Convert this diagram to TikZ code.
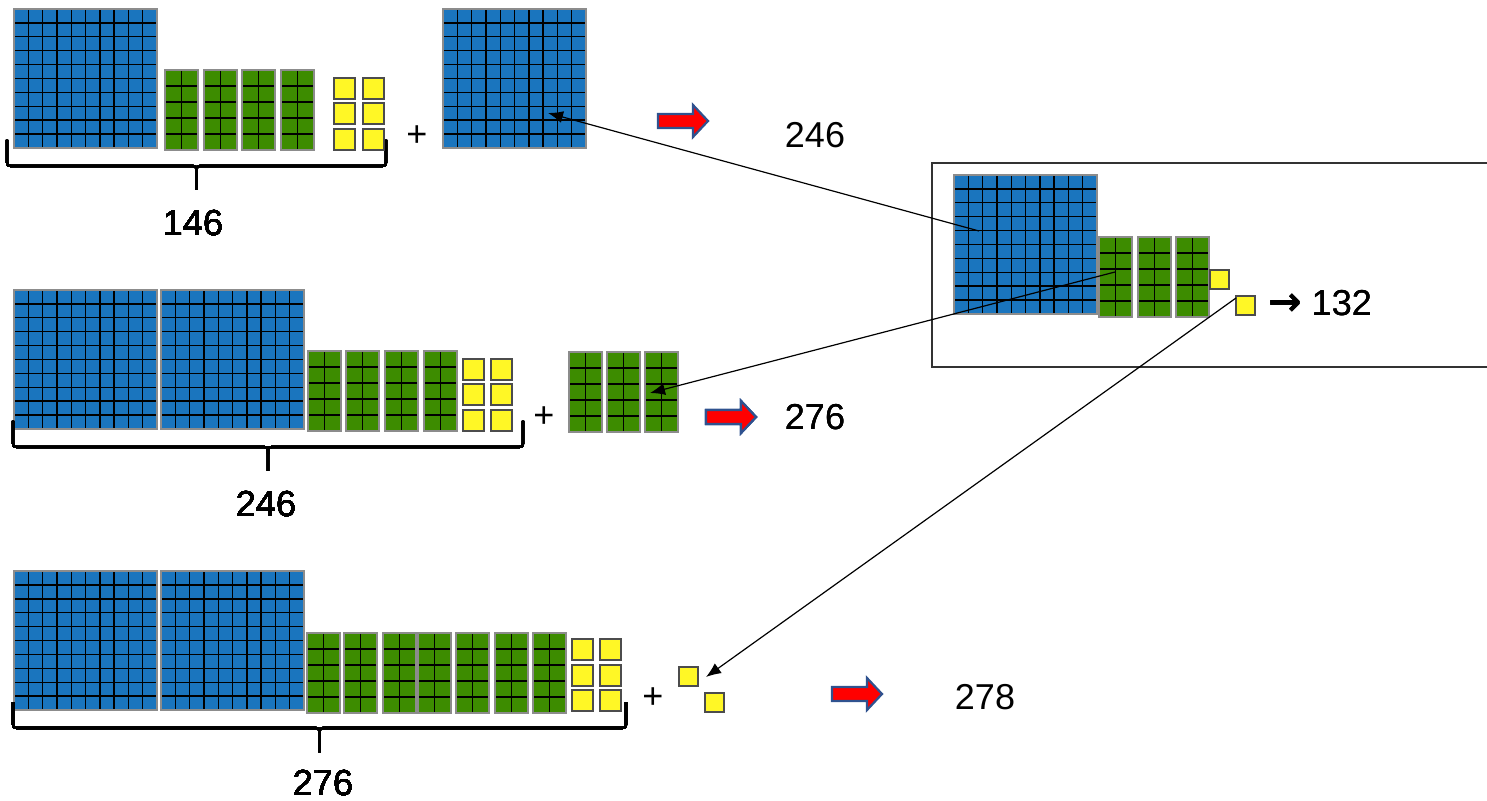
\documentclass[tikz,border=0pt]{standalone}
\usepackage{fontspec}
\setmainfont{Liberation Sans}
\newfontfamily\arrowfont{DejaVu Sans}
\usepackage{tikz}
\usetikzlibrary{arrows.meta}
\definecolor{hblue}{RGB}{26,117,190}
\definecolor{tgreen}{RGB}{61,140,0}
\definecolor{uyellow}{RGB}{255,247,38}
\definecolor{ared}{RGB}{255,0,0}
\definecolor{aedge}{RGB}{47,82,143}

\newcommand{\hundredflat}[2]{%
  \fill[hblue] (#1,#2) rectangle +(143,139);
  \foreach \k in {1,...,9} {
    \draw[gridline] ({#1+\k*14.3},#2) -- +(0,139);
    \draw[gridline] (#1,{#2+\k*13.9}) -- +(143,0);
  }
  \draw[edgeline] (#1,#2) rectangle +(143,139);
}
\newcommand{\tenrod}[2]{%
  \fill[tgreen] (#1,#2) rectangle +(33,80);
  \draw[gridline] ({#1+16.5},#2) -- +(0,80);
  \foreach \k in {1,...,4} \draw[gridline] (#1,{#2+\k*16}) -- +(33,0);
  \draw[edgeline] (#1,#2) rectangle +(33,80);
}
\newcommand{\onecube}[3]{%
  \draw[cubeline] (#1,#2) rectangle +(#3,#3);
}
\newcommand{\fatarrow}[2]{%
  \draw[fatarrowline] (#1,{#2-7}) -- ++(35,0) -- ++(0,-9) -- ++(15,16)
    -- ++(-15,16) -- ++(0,-9) -- ++(-35,0) -- cycle;
}
\newcommand{\sumbrace}[3]{%
  \draw[braceline] (#1,#3) -- (#1,{#3+19}) .. controls (#1,{#3+26}) .. ({#1+7},{#3+26})
    -- ({(#1+#2)/2-7},{#3+26}) .. controls ({(#1+#2)/2},{#3+26}) .. ({(#1+#2)/2},{#3+33})
    -- ({(#1+#2)/2},{#3+50});
  \draw[braceline] (#2,#3) -- (#2,{#3+19}) .. controls (#2,{#3+26}) .. ({#2-7},{#3+26})
    -- ({(#1+#2)/2+7},{#3+26}) .. controls ({(#1+#2)/2},{#3+26}) .. ({(#1+#2)/2},{#3+33});
}

\begin{document}
\begin{tikzpicture}[x=0.5pt, y=-0.5pt,
    gridline/.style={black, line width=0.7pt},
    edgeline/.style={black!45, line width=0.7pt},
    cubeline/.style={fill=uyellow, draw=black!70, line width=0.7pt},
    fatarrowline/.style={fill=ared, draw=aedge, line width=1.1pt, line join=miter},
    braceline/.style={line width=1.1pt},
    numlabel/.style={font=\fontsize{18}{22}\selectfont, inner sep=0pt},
    pointer/.style={-{Latex[length=7.5pt, width=6pt]}, line width=0.6pt},
    framebox/.style={black!80, line width=0.6pt}]
    \useasboundingbox (0,0) rectangle (1487,801);

    \hundredflat{14}{9}
    \foreach \x in {165,204,242,281} \tenrod{\x}{70}
    \foreach \x in {334,363} \foreach \y in {78,103,129} \onecube{\x}{\y}{21}
    \sumbrace{7}{386}{140}
    \node[numlabel] (sumA) at (193,223) {146};
    \node[numlabel] (plusA) at (417,136) {+};
    \hundredflat{443}{9}
    \fatarrow{658}{121}
    \node[numlabel] (resA) at (815,135) {246};

    \hundredflat{14}{290}
    \hundredflat{161}{290}
    \foreach \x in {308,346,385,424} \tenrod{\x}{351}
    \foreach \x in {463,491} \foreach \y in {359,384,410} \onecube{\x}{\y}{21}
    \sumbrace{13}{523}{421}
    \node[numlabel] (sumB) at (266,504) {246};
    \node[numlabel] (plusB) at (544,417) {+};
    \foreach \x in {569,607,645} \tenrod{\x}{352}
    \fatarrow{706}{417}
    \node[numlabel] (resB) at (815,417) {276};

    \hundredflat{14}{571}
    \hundredflat{161}{571}
    \foreach \x in {307,344,383,418,456,495,533} \tenrod{\x}{633}
    \foreach \x in {572,600} \foreach \y in {639,665,690} \onecube{\x}{\y}{21}
    \sumbrace{13}{626}{702}
    \node[numlabel] (sumC) at (323,783) {276};
    \node[numlabel] (plusC) at (653,698) {+};
    \onecube{679}{667}{19}
    \onecube{705}{693}{19}
    \fatarrow{832}{694}
    \node[numlabel] (resC) at (985,697) {278};

    \draw[framebox] (1487,163) -- (932,163) -- (932,367) -- (1487,367);
    \hundredflat{954}{175}
    \foreach \x in {1099,1138,1176} \tenrod{\x}{237}
    \onecube{1210}{270}{19}
    \onecube{1236}{296}{19}
    \node[numlabel] (boxres) at (1320,303) {{\arrowfont\bfseries\fontsize{20}{22}\selectfont →} 132};

    \coordinate (boxhundred) at (979,231);
    \coordinate (hundredtip) at (548,113);
    \coordinate (boxten) at (1115,272);
    \coordinate (tentip) at (650,393);
    \coordinate (boxone) at (1236,298);
    \coordinate (onetip) at (706,677);
    \draw[pointer] (boxhundred) -- (hundredtip);
    \draw[pointer] (boxten) -- (tentip);
    \draw[pointer] (boxone) -- (onetip);
\end{tikzpicture}
\end{document}
